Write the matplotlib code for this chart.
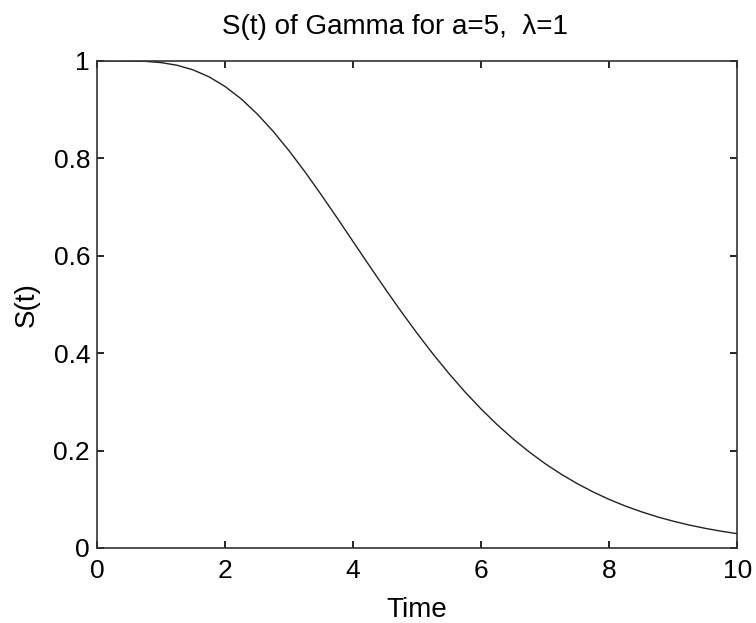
import numpy as np
import matplotlib.pyplot as plt

# values, every 0.25 time units
time = [0, 0.25, 0.5, 0.75, 1, 1.25, 1.5, 1.75, 2, 2.25, 2.5, 2.75, 3,
        3.25, 3.5, 3.75, 4, 4.25, 4.5, 4.75, 5, 5.25, 5.5, 5.75, 6,
        6.25, 6.5, 6.75, 7, 7.25, 7.5, 7.75, 8, 8.25, 8.5, 8.75, 9,
        9.25, 9.5, 9.75, 10]
surv = [1.0, 1.0, 0.9998, 0.9989, 0.9963, 0.9909, 0.9814, 0.9671, 0.9473,
        0.9220, 0.8912, 0.8554, 0.8153, 0.7717, 0.7254, 0.6776, 0.6288,
        0.5801, 0.5321, 0.4854, 0.4405, 0.3978, 0.3575, 0.3199, 0.2851,
        0.2530, 0.2237, 0.1971, 0.1730, 0.1514, 0.1321, 0.1149, 0.0996,
        0.0862, 0.0744, 0.0640, 0.0550, 0.0471, 0.0403, 0.0344, 0.0293]

xticks = [0, 2, 4, 6, 8, 10]
yticks = [0, 0.2, 0.4, 0.6, 0.8, 1]
ytick_labels = ['0', '0.2', '0.4', '0.6', '0.8', '1']

plt.rcParams['font.family'] = ['Liberation Sans', 'DejaVu Sans']

fig = plt.figure(figsize=(7.56, 6.23), dpi=100)
ax = fig.add_axes([0.1283, 0.1204, 0.847, 0.782])

ax.plot(time, surv, color='#222222', linewidth=1.0)

ax.set_xlim(0, 10)
ax.set_ylim(0, 1)
ax.set_xticks(xticks)
ax.set_xticklabels([str(t) for t in xticks])
ax.set_yticks(yticks)
ax.set_yticklabels(ytick_labels)
ax.tick_params(direction='in', length=5, width=1.2, top=True, right=True,
               labelsize=19)
ax.tick_params(axis='x', pad=8)
ax.tick_params(axis='y', pad=5)
for s in ax.spines.values():
    s.set_linewidth(1.2)
    s.set_color('#333333')

ax.set_title('S(t) of Gamma for a=5,  λ=1', fontsize=20, pad=19, x=0.465)
ax.set_xlabel('Time', fontsize=20, labelpad=10)
ax.set_ylabel('S(t)', fontsize=20, labelpad=10)

fig.savefig('out.png', dpi=100)
